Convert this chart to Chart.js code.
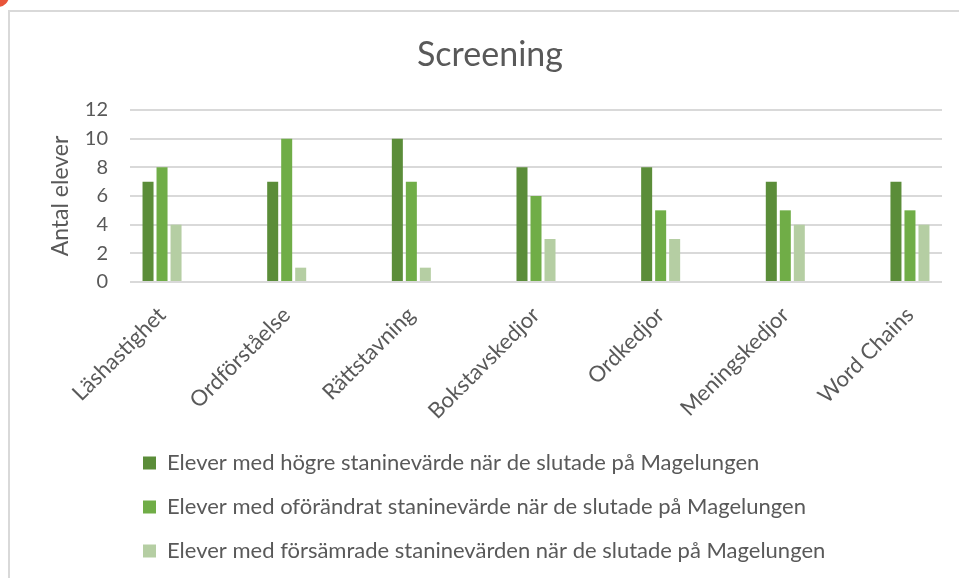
<!DOCTYPE html>
<html>
<head>
<meta charset="utf-8">
<script src="https://cdn.jsdelivr.net/npm/chart.js@4"></script>
<style>
    body { margin: 0; background: #fff; overflow: hidden; }
    #frame {
        position: absolute; left: 8px; top: 10px;
        width: 951px; height: 568px;
        border-left: 2px solid #d9d9d9; border-top: 2px solid #d9d9d9;
        box-sizing: border-box;
    }
    #dot {
        position: absolute; left: -13px; top: -15px;
        width: 22px; height: 22px; border-radius: 50%; background: #e8553a;
    }
</style>
</head>
<body>
<div id="dot"></div>
<div id="frame"><canvas id="screeningChart" width="949" height="566"></canvas></div>
<script>
// Kategorier och värden (antal elever)
const categories = ['Läshastighet', 'Ordförståelse', 'Rättstavning', 'Bokstavskedjor', 'Ordkedjor', 'Meningskedjor', 'Word Chains'];
const hogre = [7, 7, 10, 8, 8, 7, 7];
const oforandrat = [8, 10, 7, 6, 5, 5, 5];
const forsamrade = [4, 1, 1, 3, 3, 4, 4];
const yTicks = [0, 2, 4, 6, 8, 10, 12];

const textColor = '#595959';
const fontFamily = 'Lato, "Liberation Sans", sans-serif';

function toPoints(values) {
    return values.map((v, i) => ({ x: i, y: v }));
}

// flytta legenden lite åt vänster
const legendShift = {
    id: 'legendShift',
    afterLayout(chart) {
        chart.legend.left -= 9;
        chart.legend.right -= 9;
    }
};

const ctx = document.getElementById('screeningChart').getContext('2d');
const chart = new Chart(ctx, {
    type: 'bar',
    data: {
        datasets: [
            {
                label: 'Elever med högre staninevärde när de slutade på Magelungen',
                data: toPoints(hogre),
                backgroundColor: '#5b8d39'
            },
            {
                label: 'Elever med oförändrat staninevärde när de slutade på Magelungen',
                data: toPoints(oforandrat),
                backgroundColor: '#70ad47'
            },
            {
                label: 'Elever med försämrade staninevärden när de slutade på Magelungen',
                data: toPoints(forsamrade),
                backgroundColor: '#b5cea3'
            }
        ]
    },
    options: {
        responsive: false,
        animation: false,
        layout: { padding: { left: 28, right: 17, top: 0, bottom: 6 } },
        datasets: {
            bar: { categoryPercentage: 0.337, barPercentage: 0.786 }
        },
        plugins: {
            title: {
                display: true,
                text: 'Screening',
                color: textColor,
                font: { family: fontFamily, size: 34, weight: 'normal' },
                padding: { top: 22.6, bottom: 34.6 }
            },
            legend: {
                position: 'bottom',
                align: 'start',
                fullSize: false,
                labels: {
                    color: textColor,
                    font: { family: fontFamily, size: 22 },
                    boxWidth: 13,
                    boxHeight: 13,
                    padding: 22
                }
            },
            tooltip: { enabled: false }
        },
        scales: {
            x: {
                type: 'linear',
                offset: false,
                min: -0.257,
                max: 6.257,
                grid: { display: false },
                border: { display: false },
                afterBuildTicks: (scale) => {
                    scale.ticks = categories.map((c, i) => ({ value: i }));
                },
                afterFit: (scale) => { scale.height = 148; },
                ticks: {
                    autoSkip: false,
                    minRotation: 45,
                    maxRotation: 45,
                    padding: 12,
                    color: textColor,
                    font: { family: fontFamily, size: 22 },
                    callback: (value) => categories[value]
                }
            },
            y: {
                min: 0,
                max: 12,
                afterBuildTicks: (scale) => {
                    scale.ticks = yTicks.map(v => ({ value: v }));
                },
                afterFit: (scale) => { scale.width = 92; },
                grid: { color: '#d9d9d9', lineWidth: 2, drawTicks: false },
                border: { display: false },
                ticks: {
                    padding: 22,
                    color: textColor,
                    font: { family: fontFamily, size: 20 }
                },
                title: {
                    display: true,
                    text: 'Antal elever',
                    color: textColor,
                    font: { family: fontFamily, size: 23 },
                    padding: { top: 9, bottom: 0 }
                }
            }
        }
    },
    plugins: [legendShift]
});
</script>
</body>
</html>
